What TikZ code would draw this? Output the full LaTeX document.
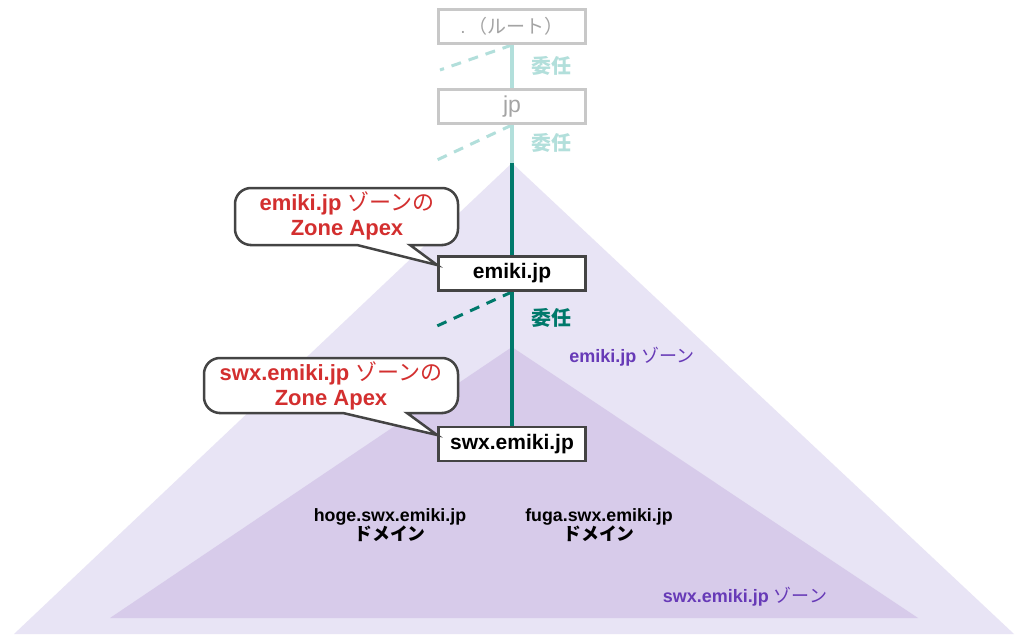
\documentclass[tikz,border=0pt]{standalone}
\usepackage{fontspec}
\setmainfont{Liberation Sans}
\newfontfamily\cjk{Noto Sans CJK JP}
\definecolor{tealL}{HTML}{B2DFDB}
\definecolor{tealD}{HTML}{00796B}
\definecolor{zonep}{HTML}{673AB7}
\definecolor{apexred}{HTML}{D32F2F}
\definecolor{triout}{HTML}{E8E4F5}
\definecolor{triin}{HTML}{D7CBEA}
\definecolor{boxgray}{HTML}{C8C8C8}
\definecolor{txtgray}{HTML}{A4A4A4}
\definecolor{boxdark}{HTML}{444444}
\tikzset{
  lightbox/.style={draw=boxgray, line width=3pt, fill=white, minimum width=147pt, minimum height=34pt, inner sep=0pt, text=txtgray},
  darkbox/.style={draw=boxdark, line width=2.8pt, fill=white, minimum width=147pt, minimum height=34pt, inner sep=0pt, font=\fontsize{21}{24}\selectfont\bfseries},
  lightline/.style={draw=tealL, line width=4pt},
  darkline/.style={draw=tealD, line width=4pt},
  lightdash/.style={draw=tealL, line width=3pt, dash pattern=on 10pt off 8pt},
  darkdash/.style={draw=tealD, line width=3pt, dash pattern=on 10pt off 8pt},
  delegL/.style={text=tealL, font=\fontsize{20}{24}\selectfont\bfseries\cjk},
  delegD/.style={text=tealD, font=\fontsize{20}{24}\selectfont\bfseries\cjk},
  callout/.style={draw=boxdark, line width=2.5pt, fill=white},
  callouttext/.style={text=apexred, align=center, font=\fontsize{22}{25}\selectfont\bfseries},
  zonelabel/.style={text=zonep, font=\fontsize{18}{21}\selectfont\bfseries},
  domlabel/.style={align=center, font=\fontsize{17.8}{19}\selectfont\bfseries},
}
\begin{document}
\begin{tikzpicture}[x=1pt,y=-1pt]
\useasboundingbox (0,0) rectangle (1028,642);
\fill[white] (0,0) rectangle (1028,642);
% zones
\fill[triout] (512,163) -- (1014,634) -- (14,634) -- cycle;
\fill[triin] (512,347) -- (918,618) -- (110,618) -- cycle;
\node[zonelabel] (zone1) at (632,357) {emiki.jp {\cjk\mdseries ゾーン}};
\node[zonelabel] (zone2) at (745,597) {swx.emiki.jp {\cjk\mdseries ゾーン}};
\node[domlabel] (hoge) at (390,525) {hoge.swx.emiki.jp\\[0pt]{\cjk ドメイン}};
\node[domlabel] (fuga) at (599,525) {fuga.swx.emiki.jp\\[0pt]{\cjk ドメイン}};
% boxes
\coordinate (apex) at (512,163);
\coordinate (d1) at (440,70);
\coordinate (d2) at (437,160);
\coordinate (d3) at (437,326);
\node[lightbox, font=\fontsize{19}{22}\selectfont] (root) at (512,26.5) {.\,{\cjk （ルート）}};
\node[lightbox, font=\fontsize{23}{26}\selectfont] (jp) at (512,106.5) {jp};
\node[darkbox] (emiki) at (512,273.5) {emiki.jp};
\node[darkbox] (swx) at (512,444) {swx.emiki.jp};
% delegation lines
\draw[lightline] (root.south) -- (jp.north);
\draw[lightline] (jp.south) -- (apex);
\draw[darkline] (apex) -- (emiki.north);
\draw[darkline] (emiki.south) -- (swx.north);
\draw[lightdash] (root.south) -- (d1);
\draw[lightdash] (jp.south) -- (d2);
\draw[darkdash] (emiki.south) -- (d3);
\node[delegL] (del1) at (551,66) {委任};
\node[delegL] (del2) at (551,143) {委任};
\node[delegD] (del3) at (551,318) {委任};
% redraw boxes on top of line ends
\node[lightbox, font=\fontsize{19}{22}\selectfont] at (root) {.\,{\cjk （ルート）}};
\node[lightbox, font=\fontsize{23}{26}\selectfont] at (jp) {jp};
\node[darkbox] at (emiki) {emiki.jp};
\node[darkbox] at (swx) {swx.emiki.jp};
% callouts
\coordinate (tip1) at (emiki.west |- 0,265);
\coordinate (tip2) at (swx.west |- 0,435);
\draw[callout] (357,245) -- (tip1) -- (410,245) -- (443,245) [rounded corners=16pt] -- (458,245) -- (458,188) -- (235,188) -- (235,245) [sharp corners] -- (250,245) -- cycle;
\node[callouttext] (c1) at (347,216) {emiki.jp {\cjk\mdseries ゾーンの}\\Zone Apex};
\draw[callout] (343,413) -- (tip2) -- (407,413) -- (443,413) [rounded corners=16pt] -- (458,413) -- (458,358) -- (204,358) -- (204,413) [sharp corners] -- (219,413) -- cycle;
\node[callouttext] (c2) at (331,386) {swx.emiki.jp {\cjk\mdseries ゾーンの}\\Zone Apex};
\end{tikzpicture}
\end{document}
